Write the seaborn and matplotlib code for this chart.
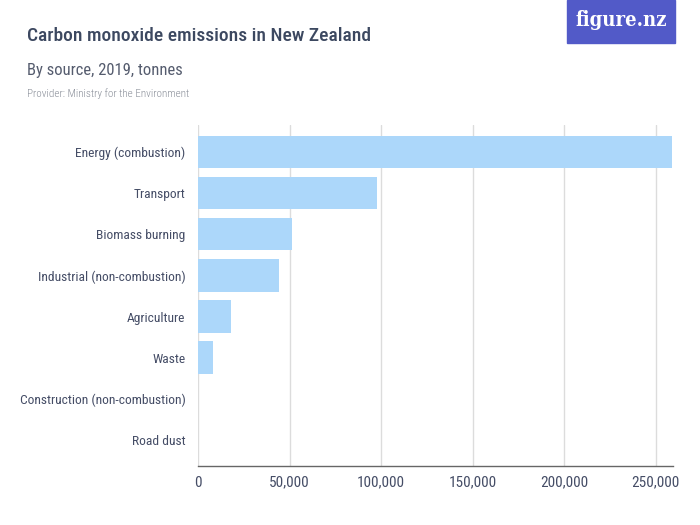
import matplotlib
matplotlib.use("Agg")
import matplotlib.pyplot as plt
from matplotlib.patches import Rectangle
from matplotlib.ticker import FuncFormatter
import seaborn as sns
import pandas as pd

categories = ["Energy (combustion)", "Transport", "Biomass burning",
              "Industrial (non-combustion)", "Agriculture", "Waste",
              "Construction (non-combustion)", "Road dust"]
values = [259000, 98000, 51300, 44000, 18300, 8400, 0, 0]
x_ticks = [0, 50000, 100000, 150000, 200000, 250000]

title = "Carbon monoxide emissions in New Zealand"
subtitle = "By source, 2019, tonnes"
provider = "Provider: Ministry for the Environment"

sns.set_theme(style="white")
FONT = "Roboto Condensed"
plt.rcParams['font.family'] = [FONT, 'DejaVu Sans']

TEXT = "#454d66"
TITLE = "#3c4860"
BAR = "#acd7fa"

df = pd.DataFrame({"category": categories, "value": values})

fig = plt.figure(figsize=(7, 5.25), dpi=100)
W, H = 700, 525
ax = fig.add_axes([198 / W, 1 - 466 / H, (673 - 198) / W, (466 - 125) / H])
sns.barplot(data=df, y="category", x="value", orient="h", color=BAR,
            saturation=1, width=0.79, linewidth=0, ax=ax)
ax.set_xlim(0, 259500)
ax.set_ylim(7.63, -0.65)
ax.set_xticks(x_ticks)
ax.xaxis.set_major_formatter(FuncFormatter(lambda v, p: f"{int(v):,}"))
ax.grid(axis="x", color="#dcdcdc", linewidth=1)
ax.set_axisbelow(True)
for s in ["top", "right", "left"]:
    ax.spines[s].set_visible(False)
ax.spines["bottom"].set_color("#666666")
ax.spines["bottom"].set_linewidth(1)
ax.set_xlabel("")
ax.set_ylabel("")
ax.tick_params(axis="x", colors="#666666", labelcolor=TEXT, labelsize=11,
               length=6, width=1, direction="inout", pad=4)
ax.tick_params(axis="y", colors=TEXT, labelsize=9.7, length=0, pad=9)

fig.text(27 / W, 1 - 36 / H, title, fontsize=14, color=TITLE, va="center",
         ha="left", fontweight="medium")
fig.text(27 / W, 1 - 70 / H, subtitle, fontsize=12, color="#555c6e",
         va="center", ha="left")
fig.text(27 / W, 1 - 94 / H, provider, fontsize=8, color="#8a8f99",
         va="center", ha="left", fontweight="light")

logo = Rectangle((567 / W, 1 - 43 / H), (675 - 567) / W, 43 / H,
                 transform=fig.transFigure, color="#525ac8", zorder=5)
fig.patches.append(logo)
fig.text(621 / W, 1 - 20 / H, "figure.nz", fontsize=14.5, color="white",
         ha="center", va="center", family=["DejaVu Serif"],
         fontweight="bold", fontstretch="condensed", zorder=6)

fig.savefig("out.png", dpi=100)
